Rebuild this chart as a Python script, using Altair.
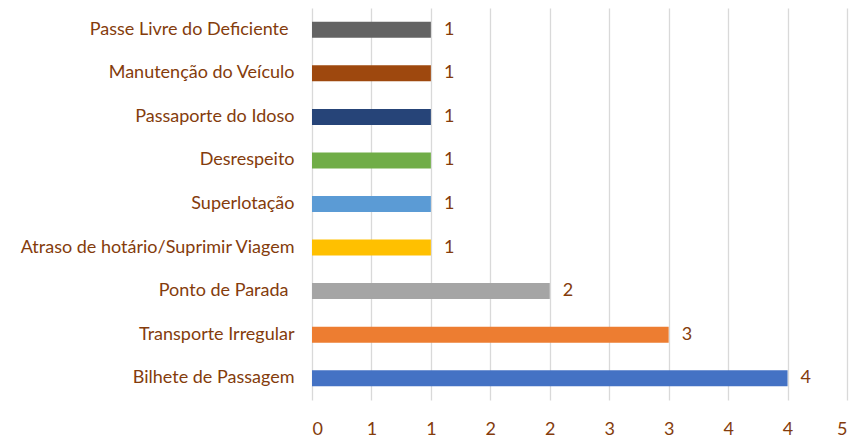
import altair as alt
import pandas as pd

categories = [
    "Passe Livre do Deficiente ",
    "Manutenção do Veículo",
    "Passaporte do Idoso",
    "Desrespeito",
    "Superlotação",
    "Atraso de hotário/Suprimir Viagem",
    "Ponto de Parada ",
    "Transporte Irregular",
    "Bilhete de Passagem",
]
values = [1, 1, 1, 1, 1, 1, 2, 3, 4]
colors = ["#636363", "#9E480E", "#264478", "#70AD47", "#5B9BD5",
          "#FFC000", "#A5A5A5", "#ED7D31", "#4472C4"]
x_ticks = [0, 0.5, 1, 1.5, 2, 2.5, 3, 3.5, 4, 4.5]

df = pd.DataFrame({"cat": categories, "val": values, "color": colors})

FONT = "Lato"
TXT = "#843C0C"
FS = 18

label_expr = ("slice(datum.value, -1) == ' ' ? "
              "trim(datum.value) + '\u2004\u2060' : datum.value")

base = alt.Chart(df).encode(
    y=alt.Y("cat:N", sort=categories, title=None,
            scale=alt.Scale(paddingInner=0.62, paddingOuter=0.31),
            axis=alt.Axis(domain=False, ticks=False, labelFontSize=FS,
                          labelColor=TXT, labelFont=FONT, labelPadding=18,
                          labelLimit=400, labelExpr=label_expr)),
)

bars = base.mark_bar(size=16).encode(
    x=alt.X("val:Q", title=None,
            scale=alt.Scale(domain=[0, 4.5], nice=False),
            axis=alt.Axis(values=x_ticks, domain=False, ticks=False,
                          labelExpr="round(datum.value)",
                          labelFontSize=FS, labelColor=TXT, labelFont=FONT,
                          labelPadding=20, gridColor="#D9D9D9", gridWidth=1.3)),
    color=alt.Color("color:N", scale=None, legend=None),
)

labels = base.mark_text(align="left", dx=13, fontSize=FS, font=FONT,
                        color=TXT).encode(
    x="val:Q",
    text="val:Q",
)

chart = (bars + labels).properties(
    width=535, height=392,
    autosize=alt.AutoSizeParams(type="none"),
    padding={"left": 304, "top": 0, "right": 4, "bottom": 38},
).configure_view(stroke=None)

chart.save("out.html", embed_options={"renderer": "svg", "actions": False})
